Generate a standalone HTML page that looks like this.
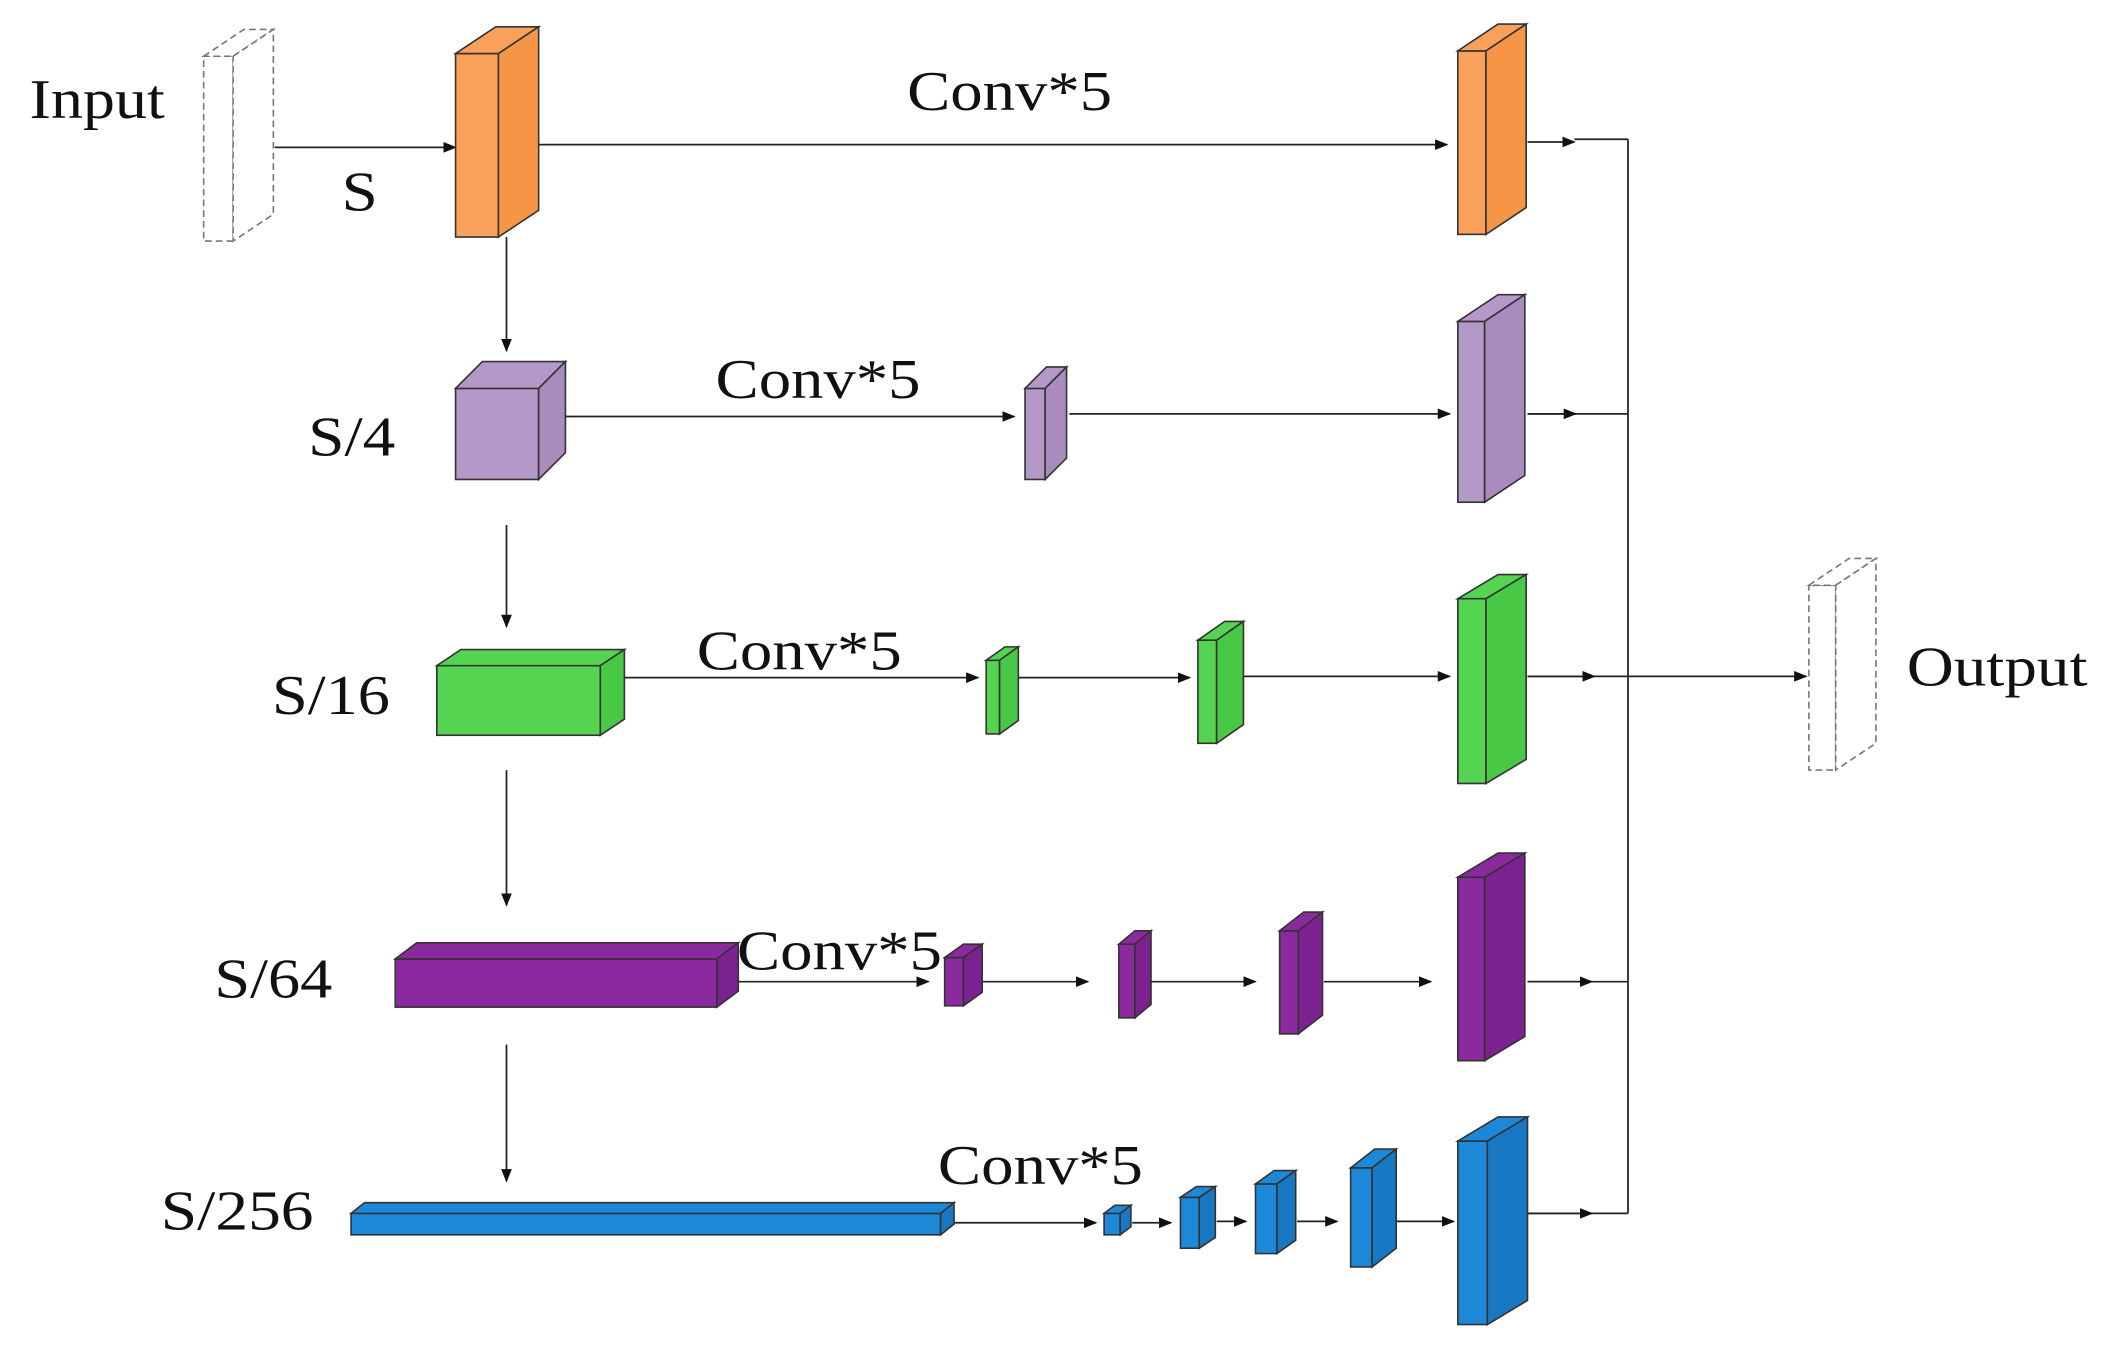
<!DOCTYPE html>
<html><head><meta charset="utf-8"><style>
html,body{margin:0;padding:0;background:#fff;}
svg{display:block;}
text{font-family:"Liberation Serif",serif;font-size:42px;fill:#111;}
</style></head><body>
<svg width="2101" height="1354" viewBox="0 0 1568 1011" preserveAspectRatio="none" xmlns="http://www.w3.org/2000/svg">
<defs><marker id="a" markerWidth="10" markerHeight="8" refX="9" refY="4" orient="auto" markerUnits="userSpaceOnUse"><path d="M0,0 L10,4 L0,8 Z" fill="#111"/></marker></defs>
<rect width="1568" height="1011" fill="#fff"/>
<g stroke="#222" stroke-width="1.3" fill="none">
<line x1="205" y1="110" x2="340" y2="110" marker-end="url(#a)"/>
<line x1="402" y1="108" x2="1080" y2="108" marker-end="url(#a)"/>
<line x1="1140" y1="106" x2="1175" y2="106" marker-end="url(#a)"/>
<line x1="1175" y1="104" x2="1215" y2="104"/>
<line x1="1215" y1="104" x2="1215" y2="906"/>
<line x1="1215" y1="505" x2="1348" y2="505" marker-end="url(#a)"/>
<line x1="378" y1="177" x2="378" y2="262" marker-end="url(#a)"/>
<line x1="378" y1="392" x2="378" y2="468" marker-end="url(#a)"/>
<line x1="378" y1="575" x2="378" y2="676" marker-end="url(#a)"/>
<line x1="378" y1="780" x2="378" y2="882" marker-end="url(#a)"/>
<line x1="422" y1="311" x2="757" y2="311" marker-end="url(#a)"/>
<line x1="798" y1="309" x2="1082" y2="309" marker-end="url(#a)"/>
<line x1="1140" y1="309" x2="1215" y2="309"/><line x1="1140" y1="309" x2="1176" y2="309" marker-end="url(#a)"/>
<line x1="466" y1="506" x2="730" y2="506" marker-end="url(#a)"/>
<line x1="760" y1="506" x2="888" y2="506" marker-end="url(#a)"/>
<line x1="928" y1="505" x2="1082" y2="505" marker-end="url(#a)"/>
<line x1="1140" y1="505" x2="1215" y2="505"/><line x1="1140" y1="505" x2="1190" y2="505" marker-end="url(#a)"/>
<line x1="550" y1="733" x2="693" y2="733" marker-end="url(#a)"/>
<line x1="732" y1="733" x2="812" y2="733" marker-end="url(#a)"/>
<line x1="857" y1="733" x2="937" y2="733" marker-end="url(#a)"/>
<line x1="988" y1="733" x2="1068" y2="733" marker-end="url(#a)"/>
<line x1="1140" y1="733" x2="1215" y2="733"/><line x1="1140" y1="733" x2="1188" y2="733" marker-end="url(#a)"/>
<line x1="710" y1="913" x2="818" y2="913" marker-end="url(#a)"/>
<line x1="845" y1="913" x2="874" y2="913" marker-end="url(#a)"/>
<line x1="908" y1="912" x2="930" y2="912" marker-end="url(#a)"/>
<line x1="968" y1="912" x2="998" y2="912" marker-end="url(#a)"/>
<line x1="1040" y1="912" x2="1085" y2="912" marker-end="url(#a)"/>
<line x1="1140" y1="906" x2="1215" y2="906"/><line x1="1140" y1="906" x2="1188" y2="906" marker-end="url(#a)"/>
</g>
<g stroke="#333" stroke-width="1.2">
<g fill="#fff" stroke="#777" stroke-dasharray="5,3">
<rect x="152" y="42" width="22" height="138"/><polygon points="152,42 182,22 204,22 174,42"/><polygon points="174,42 204,22 204,160 174,180"/>
<rect x="1350" y="437" width="20" height="138"/><polygon points="1350,437 1380,417 1400,417 1370,437"/><polygon points="1370,437 1400,417 1400,555 1370,575"/>
</g>
<g fill="#F9A05A">
<rect x="340" y="40" width="32" height="137"/><polygon points="340,40 370,20 402,20 372,40"/><polygon points="372,40 402,20 402,157 372,177" fill="#F59545"/>
<rect x="1088" y="38" width="21" height="137"/><polygon points="1088,38 1118,18 1139,18 1109,38"/><polygon points="1109,38 1139,18 1139,155 1109,175" fill="#F59545"/>
</g>
<g fill="#B498C8">
<rect x="340" y="290" width="62" height="68"/><polygon points="340,290 360,270 422,270 402,290"/><polygon points="402,290 422,270 422,338 402,358" fill="#A98CBD"/>
<rect x="765" y="290" width="15" height="68"/><polygon points="765,290 781,274 796,274 780,290"/><polygon points="780,290 796,274 796,342 780,358" fill="#A98CBD"/>
<rect x="1088" y="240" width="20" height="135"/><polygon points="1088,240 1118,220 1138,220 1108,240"/><polygon points="1108,240 1138,220 1138,355 1108,375" fill="#A98CBD"/>
</g>
<g fill="#55D452">
<rect x="326" y="497" width="122" height="52"/><polygon points="326,497 344,485 466,485 448,497"/><polygon points="448,497 466,485 466,537 448,549" fill="#48C845"/>
<rect x="736" y="493" width="10" height="55"/><polygon points="736,493 750,483 760,483 746,493"/><polygon points="746,493 760,483 760,538 746,548" fill="#48C845"/>
<rect x="894" y="478" width="14" height="77"/><polygon points="894,478 914,464 928,464 908,478"/><polygon points="908,478 928,464 928,541 908,555" fill="#48C845"/>
<rect x="1088" y="447" width="21" height="138"/><polygon points="1088,447 1118,429 1139,429 1109,447"/><polygon points="1109,447 1139,429 1139,567 1109,585" fill="#48C845"/>
</g>
<g fill="#8A2A9E">
<rect x="295" y="716" width="240" height="36"/><polygon points="295,716 311,704 551,704 535,716"/><polygon points="535,716 551,704 551,740 535,752" fill="#7C2290"/>
<rect x="705" y="715" width="14" height="36"/><polygon points="705,715 719,705 733,705 719,715"/><polygon points="719,715 733,705 733,741 719,751" fill="#7C2290"/>
<rect x="835" y="705" width="12" height="55"/><polygon points="835,705 847,695 859,695 847,705"/><polygon points="847,705 859,695 859,750 847,760" fill="#7C2290"/>
<rect x="955" y="695" width="14" height="77"/><polygon points="955,695 973,681 987,681 969,695"/><polygon points="969,695 987,681 987,758 969,772" fill="#7C2290"/>
<rect x="1088" y="655" width="20" height="137"/><polygon points="1088,655 1118,637 1138,637 1108,655"/><polygon points="1108,655 1138,637 1138,774 1108,792" fill="#7C2290"/>
</g>
<g fill="#1E88D8">
<rect x="262" y="906" width="440" height="16"/><polygon points="262,906 272,898 712,898 702,906"/><polygon points="702,906 712,898 712,914 702,922" fill="#1878C4"/>
<rect x="824" y="906" width="12" height="16"/><polygon points="824,906 832,900 844,900 836,906"/><polygon points="836,906 844,900 844,916 836,922" fill="#1878C4"/>
<rect x="881" y="894" width="14" height="38"/><polygon points="881,894 893,886 907,886 895,894"/><polygon points="895,894 907,886 907,924 895,932" fill="#1878C4"/>
<rect x="937" y="884" width="16" height="52"/><polygon points="937,884 951,874 967,874 953,884"/><polygon points="953,884 967,874 967,926 953,936" fill="#1878C4"/>
<rect x="1008" y="872" width="16" height="74"/><polygon points="1008,872 1026,858 1042,858 1024,872"/><polygon points="1024,872 1042,858 1042,932 1024,946" fill="#1878C4"/>
<rect x="1088" y="852" width="22" height="137"/><polygon points="1088,852 1118,834 1140,834 1110,852"/><polygon points="1110,852 1140,834 1140,971 1110,989" fill="#1878C4"/>
</g>
</g>
<text x="22" y="88" textLength="101" lengthAdjust="spacingAndGlyphs">Input</text>
<text x="255" y="157" textLength="27" lengthAdjust="spacingAndGlyphs">S</text>
<text x="677" y="82" textLength="153" lengthAdjust="spacingAndGlyphs">Conv*5</text>
<text x="230" y="340" textLength="65" lengthAdjust="spacingAndGlyphs">S/4</text>
<text x="534" y="297" textLength="153" lengthAdjust="spacingAndGlyphs">Conv*5</text>
<text x="203" y="533" textLength="88" lengthAdjust="spacingAndGlyphs">S/16</text>
<text x="520" y="500" textLength="153" lengthAdjust="spacingAndGlyphs">Conv*5</text>
<text x="160" y="745" textLength="88" lengthAdjust="spacingAndGlyphs">S/64</text>
<text x="550" y="724" textLength="153" lengthAdjust="spacingAndGlyphs">Conv*5</text>
<text x="120" y="918" textLength="114" lengthAdjust="spacingAndGlyphs">S/256</text>
<text x="700" y="884" textLength="153" lengthAdjust="spacingAndGlyphs">Conv*5</text>
<text x="1423" y="512" textLength="135" lengthAdjust="spacingAndGlyphs">Output</text>
</svg>
</body></html>
